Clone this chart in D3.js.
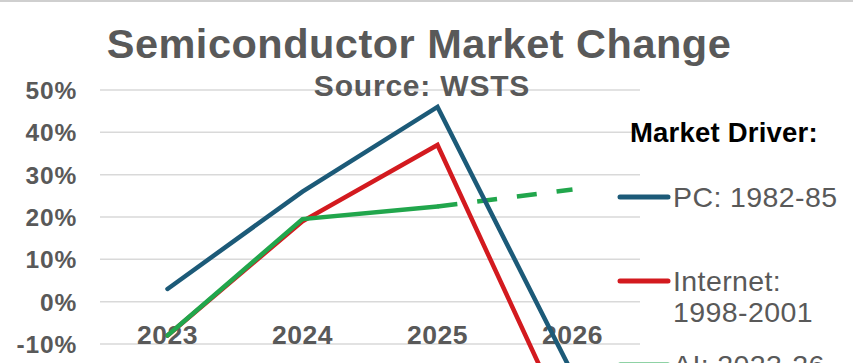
<!DOCTYPE html>
<html>
<head>
<meta charset="utf-8">
<script src="https://cdn.jsdelivr.net/npm/d3@7"></script>
<style>
  html, body { margin: 0; padding: 0; background: #fff; overflow: hidden; }
  text { font-family: "Liberation Sans", Arial, sans-serif; }
</style>
</head>
<body>
<div class="chart"></div>
<script>
(function () {
  var years = ['2023', '2024', '2025', '2026']
  var pcValues = [3, 26, 46, -17]
  var internetValues = [-8, 19, 37, -32]
  var aiValues = [-8, 19.5, 22.5]
  var aiForecast = [22.5, 26.5]
  var yTicks = [-10, 0, 10, 20, 30, 40, 50]
  var legendLabels = [['PC: 1982-85'], ['Internet:', '1998-2001'], ['AI: 2023-26']]

  var colors = ['#1c5a78', '#d31a1f', '#21a64c']
  var width = 853
  var height = 363
  var gray = '#595959'

  var svg = d3.select('.chart')
    .append('svg')
    .attr('width', width)
    .attr('height', height)

  // thin border at the very top of the screenshot
  svg.append('line')
    .attr('x1', 0).attr('x2', width)
    .attr('y1', 1).attr('y2', 1)
    .attr('stroke', '#cfcfcf')
    .attr('stroke-width', 2)

  var x = d3.scaleBand().domain(years).range([100, 640])
  // the chart runs on below the cropped picture, so the domain goes past -10%
  var y = d3.scaleLinear().domain([-40, 50]).range([471, 90])
  var cx = function (d) { return x(d) + x.bandwidth() / 2 }

  // gridlines
  svg.selectAll('.grid')
    .data(yTicks)
    .enter()
    .append('line')
    .attr('class', 'grid')
    .attr('x1', 100)
    .attr('x2', 640)
    .attr('y1', function (d) { return y(d) })
    .attr('y2', function (d) { return y(d) })
    .attr('stroke', '#d9d9d9')
    .attr('stroke-width', 1.5)

  // y labels
  svg.selectAll('.ytick')
    .data(yTicks)
    .enter()
    .append('text')
    .attr('class', 'ytick')
    .attr('x', 77)
    .attr('y', function (d) { return y(d) + 9 })
    .attr('text-anchor', 'end')
    .attr('font-size', '24.5px')
    .attr('font-weight', 'bold')
    .attr('letter-spacing', '0.8px')
    .attr('fill', gray)
    .text(function (d) { return d + '%' })

  // x labels, sitting under the 0% line
  svg.selectAll('.xtick')
    .data(years)
    .enter()
    .append('text')
    .attr('class', 'xtick')
    .attr('x', function (d) { return cx(d) })
    .attr('y', y(0) + 42)
    .attr('text-anchor', 'middle')
    .attr('font-size', '26.5px')
    .attr('font-weight', 'bold')
    .attr('letter-spacing', '0.5px')
    .attr('fill', gray)
    .text(function (d) { return d })

  // title
  svg.append('text')
    .attr('x', 419)
    .attr('y', 58)
    .attr('text-anchor', 'middle')
    .attr('font-size', '41.5px')
    .attr('font-weight', 'bold')
    .attr('letter-spacing', '0.5px')
    .attr('fill', gray)
    .text('Semiconductor Market Change')

  svg.append('text')
    .attr('x', 422)
    .attr('y', 96)
    .attr('text-anchor', 'middle')
    .attr('font-size', '30px')
    .attr('font-weight', 'bold')
    .attr('letter-spacing', '0.8px')
    .attr('fill', gray)
    .text('Source: WSTS')

  var line = d3.line()
    .x(function (d) { return cx(d.year) })
    .y(function (d) { return y(d.value) })

  function pts(vals, offset) {
    return vals.map(function (v, i) { return { year: years[i + (offset || 0)], value: v } })
  }

  var series = [
    { data: pts(internetValues), color: colors[1], dash: null },
    { data: pts(aiValues), color: colors[2], dash: null },
    { data: pts(aiForecast, 2), color: colors[2], dash: '20,20' },
    { data: pts(pcValues), color: colors[0], dash: null }
  ]

  svg.selectAll('.series')
    .data(series)
    .enter()
    .append('path')
    .attr('class', 'series')
    .attr('d', function (d) { return line(d.data) })
    .attr('fill', 'none')
    .attr('stroke', function (d) { return d.color })
    .attr('stroke-width', 4.5)
    .attr('stroke-linejoin', 'miter')
    .attr('stroke-linecap', function (d) { return d.dash ? 'butt' : 'round' })
    .attr('stroke-dasharray', function (d) { return d.dash })

  // legend
  svg.append('text')
    .attr('x', 630)
    .attr('y', 142)
    .attr('font-size', '27.5px')
    .attr('font-weight', 'bold')
    .attr('letter-spacing', '0.2px')
    .attr('fill', '#000')
    .text('Market Driver:')

  var legend = svg.selectAll('.legend')
    .data(legendLabels)
    .enter()
    .append('g')
    .attr('class', 'legend')
    .attr('transform', function (d, i) { return 'translate(0,' + (197 + i * 84) + ')' })

  legend.append('line')
    .attr('x1', 620)
    .attr('x2', 668)
    .attr('stroke', function (d, i) { return colors[i] })
    .attr('stroke-width', 5)
    .attr('stroke-linecap', 'round')

  legend.append('text')
    .attr('x', 673)
    .attr('y', 10)
    .attr('font-size', '28.5px')
    .attr('letter-spacing', '0.4px')
    .attr('fill', gray)
    .selectAll('tspan')
    .data(function (d) { return d })
    .enter()
    .append('tspan')
    .attr('x', 673)
    .attr('dy', function (d, i) { return i === 0 ? 0 : 31 })
    .text(function (d) { return d })
})()
</script>
</body>
</html>
